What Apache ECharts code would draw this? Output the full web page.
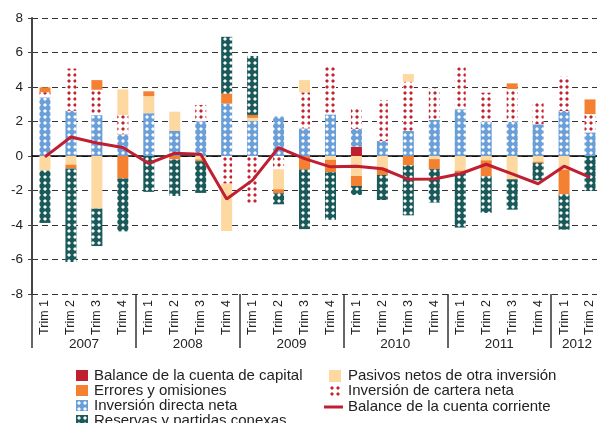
<!DOCTYPE html>
<html>
<head>
<meta charset="utf-8">
<script src="https://cdn.jsdelivr.net/npm/echarts@6/dist/echarts.min.js"></script>
<style>
html, body { margin: 0; padding: 0; background: #fff; }
#main { width: 597px; height: 423px; }
</style>
</head>
<body>
<div id="main"></div>
<script>
var catYear = ['2007', '2007', '2007', '2007', '2008', '2008', '2008', '2008',
	'2009', '2009', '2009', '2009', '2010', '2010', '2010', '2010',
	'2011', '2011', '2011', '2011', '2012', '2012'];
var catQuarter = ['Trim 1', 'Trim 2', 'Trim 3', 'Trim 4', 'Trim 1', 'Trim 2', 'Trim 3', 'Trim 4',
	'Trim 1', 'Trim 2', 'Trim 3', 'Trim 4', 'Trim 1', 'Trim 2', 'Trim 3', 'Trim 4',
	'Trim 1', 'Trim 2', 'Trim 3', 'Trim 4', 'Trim 1', 'Trim 2'];

// series values, % of GDP
var capital = [0, 0, 0, 0, 0, 0, 0, 0, 0, 0, 0, 0, 0.54, 0, 0, 0, 0, 0, 0, 0, 0, 0];
var directa = [3.4, 2.62, 2.37, 1.26, 2.48, 1.45, 2.01, 3.04, 2.03, 2.29, 1.6, 2.41,
	1.03, 0.87, 1.45, 2.09, 2.71, 1.99, 1.99, 1.84, 2.61, 1.37];
var cartera = [0.3, 2.45, 1.47, 1.12, 0, 0, 0.95, -1.6, -2.72, -0.77, 2.09, 2.86,
	1.25, 2.38, 2.86, 1.83, 2.43, 1.68, 1.89, 1.31, 1.99, 1.06];
var pasivos = [-0.85, -0.5, -3.05, 1.48, 0.99, 1.12, -0.2, -2.75, 0.18, -1.16, 0.71, -0.22,
	-1.16, -0.72, 0.44, -0.18, -0.85, -0.25, -1.35, -0.33, -0.79, 0];
var errores = [0.28, -0.22, 0.56, -1.3, 0.28, -0.2, -0.1, 0.58, 0.17, -0.23, -0.78, -0.72,
	-0.58, -0.38, -0.54, -0.58, -0.1, -0.93, 0.33, -0.08, -1.43, 0.85];
var reservas = [-3.03, -5.42, -2.17, -3.07, -2.08, -2.12, -1.84, 3.29, 3.42, -0.64, -3.46, -2.76,
	-0.52, -1.45, -2.9, -1.94, -3.2, -2.12, -1.76, -1.0, -2.05, -2.03];
var corriente = [-0.05, 1.1, 0.75, 0.49, -0.43, 0.16, 0.1, -2.49, -1.4, 0.49, -0.15, -0.63,
	-0.6, -0.74, -1.35, -1.33, -1.03, -0.48, -1.04, -1.61, -0.59, -1.24];

var FONT = 'Liberation Sans, Arial, sans-serif';

// dotted fills
function dots(bg, dot) {
	var c = document.createElement('canvas');
	c.width = 6; c.height = 6;
	var ctx = c.getContext('2d');
	ctx.fillStyle = bg;
	ctx.fillRect(0, 0, 6, 6);
	ctx.fillStyle = dot;
	ctx.globalAlpha = 0.5;
	ctx.fillRect(1, 2, 4, 2);
	ctx.fillRect(2, 1, 2, 4);
	ctx.globalAlpha = 1;
	ctx.fillRect(2, 2, 2, 2);
	return { image: c, repeat: 'repeat' };
}

// year label sits in the middle of its quarters
var yearLabels = {};
var start = 0;
for (var i = 1; i <= catYear.length; i++) {
	if (i === catYear.length || catYear[i] !== catYear[start]) {
		yearLabels[(start + i) / 2] = catYear[start];
		start = i;
	}
}

function bar(name, data, color) {
	return {
		name: name,
		type: 'bar',
		stack: 'total',
		barWidth: 11,
		data: data,
		itemStyle: { color: color }
	};
}

function legend(names, left, top, w, h, pad) {
	return {
		orient: 'vertical', left: left, top: top, padding: 0,
		itemWidth: w, itemHeight: h, itemGap: 0,
		icon: 'rect',
		textStyle: { fontSize: 15, lineHeight: 15, color: '#222', fontFamily: FONT, padding: [0, 0, 0, pad] },
		data: names
	};
}

var chart = echarts.init(document.getElementById('main'));
var option = {
	animation: false,
	grid: { left: 32, top: 18, width: 571, height: 276, outerBoundsMode: 'none' },
	legend: [
		legend(['Balance de la cuenta de capital', 'Errores y omisiones', 'Inversión directa neta'], 76, 368, 12, 11, 1),
		legend(['Reservas y partidas conexas'], 76, 413, 12, 11, 1),
		legend(['Pasivos netos de otra inversión', 'Inversión de cartera neta'], 329, 368.5, 12, 12, 2),
		legend(['Balance de la cuenta corriente'], 324, 399.5, 19, 3, 0)
	],
	xAxis: [
		{
			type: 'category', data: catQuarter,
			axisLine: { onZero: true, lineStyle: { color: '#000', width: 1.5 } },
			axisTick: { length: 3, lineStyle: { color: '#000' } },
			axisLabel: { show: false }
		},
		{
			type: 'category', data: catQuarter, position: 'bottom',
			axisLine: { show: false, onZero: false },
			axisTick: { length: 6, lineStyle: { color: '#333' } },
			axisLabel: { interval: 0, rotate: 90, margin: 6, fontSize: 12.5, color: '#222', fontFamily: FONT }
		},
		{
			type: 'value', min: 0, max: 22, interval: 4, position: 'bottom',
			axisLine: { show: false, onZero: false },
			axisTick: { length: 54, lineStyle: { color: '#333', width: 1.5 } },
			axisLabel: { show: false },
			splitLine: { show: false }
		},
		{
			type: 'value', min: 0, max: 22, interval: 1, position: 'bottom',
			axisLine: { show: false, onZero: false },
			axisTick: { show: false },
			axisLabel: {
				margin: 43, fontSize: 13.5, color: '#222', fontFamily: FONT,
				showMinLabel: true, showMaxLabel: true,
				formatter: function (v) { return yearLabels[v] || ''; }
			},
			splitLine: { show: false }
		}
	],
	yAxis: {
		type: 'value', min: -8, max: 8, interval: 2,
		axisLine: { show: true, lineStyle: { color: '#444', width: 2 } },
		axisTick: { show: true, length: 4, lineStyle: { color: '#444' } },
		axisLabel: { margin: 9, fontSize: 13.5, color: '#222', fontFamily: FONT },
		splitLine: { lineStyle: { color: '#333', type: [6, 4], width: 1 } }
	},
	series: [
		bar('Balance de la cuenta de capital', capital, '#c01f30'),
		bar('Inversión directa neta', directa, dots('#6b9fd8', '#ffffff')),
		bar('Inversión de cartera neta', cartera, dots('#ffffff', '#c8202e')),
		bar('Pasivos netos de otra inversión', pasivos, '#fdd8a0'),
		bar('Errores y omisiones', errores, '#f48032'),
		bar('Reservas y partidas conexas', reservas, dots('#1b5a5b', '#ffffff')),
		{
			name: 'Balance de la cuenta corriente',
			type: 'line',
			data: corriente,
			symbol: 'none',
			z: 5,
			lineStyle: { width: 3, color: '#c01f32' },
			itemStyle: { color: '#c01f32' }
		}
	]
};
chart.setOption(option);
</script>
</body>
</html>
